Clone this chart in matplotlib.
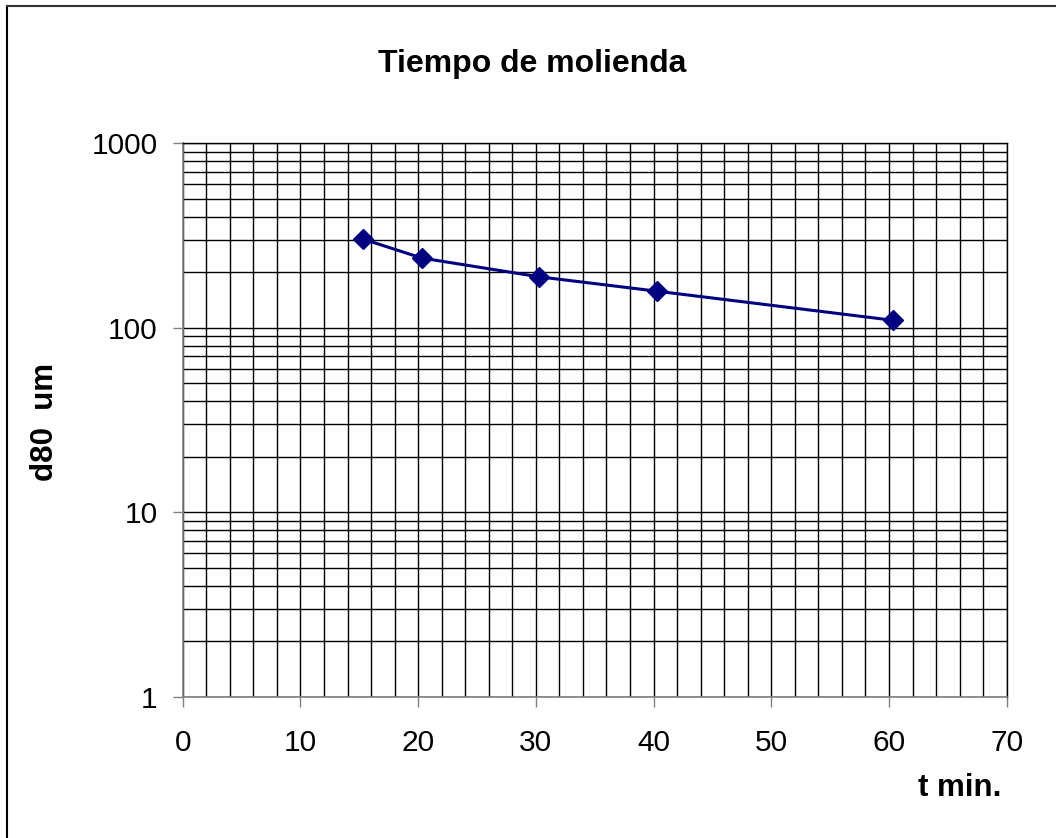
import matplotlib
matplotlib.use("Agg")
import matplotlib.pyplot as plt
from matplotlib.lines import Line2D
from matplotlib.ticker import FixedLocator, NullFormatter

plt.rcParams["font.family"] = ["Liberation Sans", "DejaVu Sans"]

# grinding time (min) vs d80 (um)
t_min = [15.3, 20.3, 30.3, 40.3, 60.3]
d80_um = [303, 239, 189, 158, 110]

x_ticks = [0, 10, 20, 30, 40, 50, 60, 70]
y_ticks = [1, 10, 100, 1000]
y_tick_labels = ["1", "10", "100", "1000"]

W, H = 1056, 838
fig = plt.figure(figsize=(W / 100, H / 100), dpi=100)
ax = fig.add_axes([182.7 / W, 1 - 697 / H, (1006.7 - 182.7) / W, (697 - 143.3) / H])

ax.set_yscale("log")
ax.set_xlim(0, 70)
ax.set_ylim(1, 1000)

ax.xaxis.set_major_locator(FixedLocator(x_ticks))
ax.xaxis.set_minor_locator(FixedLocator([v for v in range(0, 71, 2) if v % 10]))
ax.yaxis.set_major_locator(FixedLocator(y_ticks))
minor_y = [m * 10 ** e for e in range(0, 3) for m in range(2, 10)]
ax.yaxis.set_minor_locator(FixedLocator(minor_y))
ax.yaxis.set_minor_formatter(NullFormatter())
ax.set_yticklabels(y_tick_labels)

ax.grid(True, which="both", color="black", linewidth=1.0)
ax.tick_params(which="major", direction="out", length=7, width=1, color="#808080",
               labelsize=21.5, pad=11)
ax.tick_params(axis="x", which="major", pad=16)
ax.tick_params(which="minor", length=0)

for side in ["left", "bottom"]:
    ax.spines[side].set_color("#808080")
    ax.spines[side].set_linewidth(1.2)
for side in ["top", "right"]:
    ax.spines[side].set_color("black")
    ax.spines[side].set_linewidth(1)

ax.plot(t_min, d80_um, color="#000080", linewidth=2.2, marker="D", markersize=10,
        zorder=5, clip_on=False)

fig.text(532 / W, 1 - 64 / H, "Tiempo de molienda", ha="center", va="center",
         fontsize=23, fontweight="bold")
fig.text(45 / W, 1 - 422 / H, "d80  um", ha="center", va="center", rotation=90,
         fontsize=22.5, fontweight="bold")
fig.text(960 / W, 1 - 788 / H, "t min.", ha="center", va="center",
         fontsize=22.5, fontweight="bold")

# outer chart frame (top and left edges visible)
fig.add_artist(Line2D([7 / W, 7 / W], [0, 1 - 6.5 / H], transform=fig.transFigure,
                      color="black", linewidth=1.5))
fig.add_artist(Line2D([7 / W, 1], [1 - 6.5 / H, 1 - 6.5 / H], transform=fig.transFigure,
                      color="#333333", linewidth=1.5))

fig.savefig("out.png", dpi=100)
